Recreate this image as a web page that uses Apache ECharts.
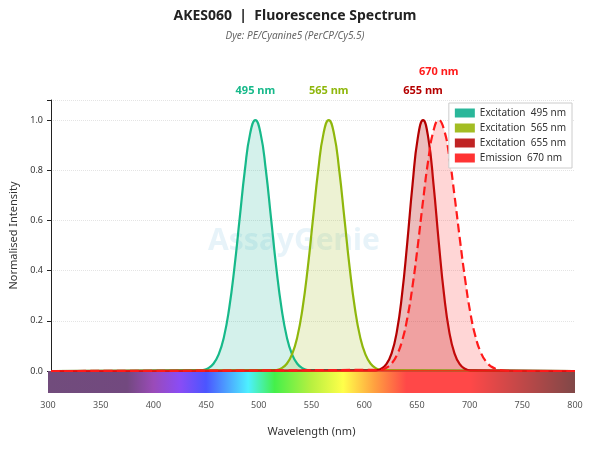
<!DOCTYPE html>
<html>
<head>
<meta charset="utf-8">
<script src="https://cdn.jsdelivr.net/npm/echarts@6/dist/echarts.min.js"></script>
<style>html,body{margin:0;background:#fff}#chart{width:590px;height:449px}</style>
</head>
<body>
<div id="chart"></div>
<script>
const ex495X = [445,450,455,460,465,470,475,480,485,490,495,500,505,510,515,520,525,530,535,540,545];
const ex495Y = [0.004,0.011,0.029,0.066,0.135,0.249,0.411,0.607,0.801,0.946,1,0.946,0.801,0.607,0.411,0.249,0.135,0.066,0.029,0.011,0.004];
const ex565X = [515,520,525,530,535,540,545,550,555,560,565,570,575,580,585,590,595,600,605,610,615];
const ex565Y = [0.004,0.011,0.029,0.066,0.135,0.249,0.411,0.607,0.801,0.946,1,0.946,0.801,0.607,0.411,0.249,0.135,0.066,0.029,0.011,0.004];
const ex655X = [610,615,620,625,630,635,640,645,650,655,660,665,670,675,680,685,690,695,700];
const ex655Y = [0.0025,0.009,0.027,0.070,0.157,0.306,0.514,0.744,0.929,1,0.929,0.744,0.514,0.306,0.157,0.070,0.027,0.009,0.0025];
const em670X = [615,620,625,630,635,640,645,650,655,660,665,670,675,680,685,690,695,700,705,710,715,720,725,730,745];
const em670Y = [0.005,0.013,0.030,0.063,0.120,0.211,0.339,0.500,0.678,0.841,0.958,1,0.962,0.855,0.700,0.530,0.370,0.235,0.138,0.075,0.038,0.018,0.008,0.003,0];
const yTicks = [0, 0.2, 0.4, 0.6, 0.8, 1.0];

function pairs(xs, ys) {
  return [[300, 0]].concat(xs.map((x, i) => [x, ys[i]]), [[800, 0]]);
}

const chart = echarts.init(document.getElementById("chart"));
const font = "Noto Sans";

function peakLabel(x, color, dy) {
  return {
    symbolSize: 0,
    data: [{ coord: [x, 1.08] }],
    label: { show: true, formatter: x + " nm", color, fontWeight: "bold", fontSize: 11, fontFamily: font, offset: [0, dy] },
  };
}

function spectrum(name, xs, ys, color, fill, fillOpacity, dashed, labelDy) {
  return {
    name, type: "line", data: pairs(xs, ys), smooth: true, symbol: "none",
    xAxisIndex: 0, yAxisIndex: 0,
    lineStyle: { color, width: 2.2, type: dashed ? "dashed" : "solid" },
    itemStyle: { color: fill },
    areaStyle: { color: fill, opacity: fillOpacity },
    markPoint: peakLabel(xs[ys.indexOf(1)], color, labelDy),
    z: dashed ? 3 : 2,
  };
}

chart.setOption({
  animation: false,
  textStyle: { fontFamily: font },
  title: {
    text: "AKES060  |  Fluorescence Spectrum",
    subtext: "Dye: PE/Cyanine5 (PerCP/Cy5.5)",
    left: "center", top: 4, itemGap: 8,
    textStyle: { fontSize: 14, fontWeight: "bold", color: "#222", fontFamily: font },
    subtextStyle: { fontSize: 10, fontStyle: "italic", color: "#666", fontFamily: font },
  },
  legend: {
    orient: "vertical", right: 18, top: 103, itemWidth: 20, itemHeight: 9, itemGap: 5,
    backgroundColor: "#fff", borderColor: "#ccc", borderWidth: 1, padding: [5, 6],
    textStyle: { fontSize: 10, color: "#333" },
    data: [
      { name: "Excitation  495 nm", icon: "rect", itemStyle: { color: "#2ab79a" } },
      { name: "Excitation  565 nm", icon: "rect", itemStyle: { color: "#a3bd23" } },
      { name: "Excitation  655 nm", icon: "rect", itemStyle: { color: "#c02424" } },
      { name: "Emission  670 nm", icon: "rect", itemStyle: { color: "#ff3333" } },
    ],
  },
  graphic: [{
    type: "text", left: 208, top: 226, silent: true,
    style: { text: "AssayGenie", font: "bold 30px Noto Sans", fill: "rgba(120,190,220,0.18)" },
  }],
  grid: [
    { left: 48, right: 15, top: 100, height: 271 },
    { left: 48, right: 15, top: 371, height: 22 },
  ],
  xAxis: [
    { type: "value", gridIndex: 0, min: 300, max: 800, show: false },
    {
      type: "value", gridIndex: 1, min: 300, max: 800, interval: 50,
      axisLine: { show: false }, axisTick: { show: false }, splitLine: { show: false },
      axisLabel: { fontSize: 9, color: "#555", margin: 8 },
      name: "Wavelength (nm)", nameLocation: "middle", nameGap: 33,
      nameTextStyle: { fontSize: 11, color: "#333" },
    },
  ],
  yAxis: [
    {
      type: "value", gridIndex: 0, min: 0, max: 1.08, interval: 0.2,
      axisLine: { show: true, lineStyle: { color: "#222" } },
      axisTick: { show: true, length: 4, lineStyle: { color: "#222" } },
      axisLabel: { fontSize: 9, color: "#333", formatter: (v) => (yTicks.includes(Math.round(v * 10) / 10) ? v.toFixed(1) : "") },
      splitLine: { lineStyle: { color: "#e4e4e4", type: "dotted" } },
      name: "Normalised Intensity", nameLocation: "middle", nameGap: 32,
      nameTextStyle: { fontSize: 11, color: "#333" },
    },
    { type: "value", gridIndex: 1, min: 0, max: 1, show: false },
  ],
  series: [
    spectrum("Excitation  495 nm", ex495X, ex495Y, "#17b98a", "#2ab79a", 0.2, false, -9),
    spectrum("Excitation  565 nm", ex565X, ex565Y, "#8fb70c", "#a3bd23", 0.2, false, -9),
    spectrum("Excitation  655 nm", ex655X, ex655Y, "#b50000", "#c02424", 0.3, false, -9),
    spectrum("Emission  670 nm", em670X, em670Y, "#ff1a1a", "#ff3333", 0.2, true, -28),
    {
      type: "line", xAxisIndex: 1, yAxisIndex: 1, data: [[300, 0], [800, 0]], symbol: "none",
      lineStyle: { width: 0 }, silent: true,
      markArea: {
        silent: true,
        data: [[{ xAxis: 300, yAxis: 0 }, { xAxis: 800, yAxis: 1 }]],
        itemStyle: {
          color: new echarts.graphic.LinearGradient(0, 0, 1, 0, [
            { offset: 0, color: "#714c7c" },
            { offset: 0.15, color: "#72497f" },
            { offset: 0.2, color: "#9a4bb8" },
            { offset: 0.25, color: "#8a4cf5" },
            { offset: 0.3, color: "#4b55ff" },
            { offset: 0.38, color: "#4df0ff" },
            { offset: 0.43, color: "#44f04a" },
            { offset: 0.5, color: "#b8f040" },
            { offset: 0.56, color: "#ffff4a" },
            { offset: 0.62, color: "#ffa040" },
            { offset: 0.68, color: "#ff4848" },
            { offset: 0.8, color: "#ff4848" },
            { offset: 1, color: "#804848" },
          ]),
        },
      },
    },
    {
      type: "line", xAxisIndex: 0, yAxisIndex: 0, data: [[300, 0], [800, 0]], symbol: "none",
      lineStyle: { color: "#ff1a1a", width: 1.5 }, silent: true, z: 4,
    },
  ],
});
</script>
</body>
</html>
